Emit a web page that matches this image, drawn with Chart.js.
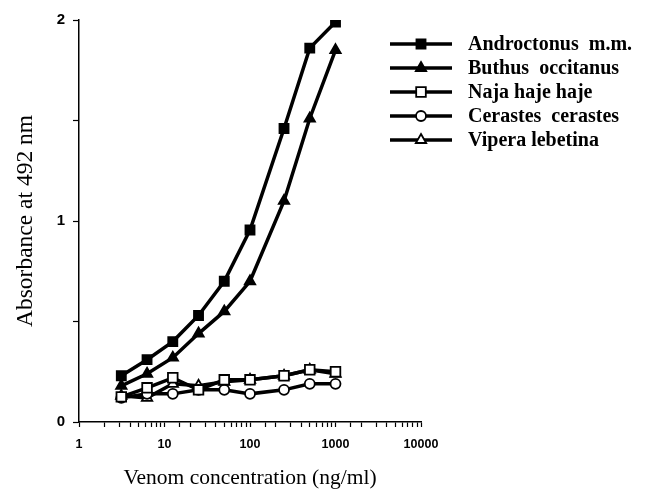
<!DOCTYPE html>
<html>
<head>
<meta charset="utf-8">
<script src="https://cdn.jsdelivr.net/npm/chart.js@4/dist/chart.umd.min.js"></script>
<style>
  html, body { margin: 0; padding: 0; background: #fff; }
  #wrap { width: 649px; height: 489px; position: relative; }
</style>
</head>
<body>
<div id="wrap"><canvas id="c" width="649" height="489"></canvas></div>
<script>
// Venom concentration (ng/ml)
const concentrations = [3.125, 6.25, 12.5, 25, 50, 100, 250, 500, 1000];
// Absorbance at 492 nm
const androctonus = [0.23, 0.31, 0.40, 0.53, 0.70, 0.955, 1.46, 1.86, 1.99];
const buthus      = [0.18, 0.24, 0.32, 0.44, 0.55, 0.70, 1.10, 1.51, 1.85];
const naja        = [0.125, 0.17, 0.22, 0.16, 0.21, 0.21, 0.23, 0.26, 0.25];
const cerastes    = [0.12, 0.14, 0.14, 0.16, 0.16, 0.14, 0.16, 0.19, 0.19];
const vipera      = [0.13, 0.12, 0.19, 0.18, 0.20, 0.21, 0.23, 0.26, 0.24];
const seriesNames = ['Androctonus  m.m.', 'Buthus  occitanus', 'Naja haje haje', 'Cerastes  cerastes', 'Vipera lebetina'];
const xTickLabels = [1, 10, 100, 1000, 10000];
const yTickLabels = [0, 1, 2];

function pts(ys) { return concentrations.map((x, i) => ({ x: x, y: ys[i] })); }

const styles = [
  { pointStyle: 'rect', fill: '#000', radius: 6.4 },
  { pointStyle: 'triangle', fill: '#000', radius: 6 },
  { pointStyle: 'rect', fill: '#fff', radius: 6.8 },
  { pointStyle: 'circle', fill: '#fff', radius: 5 },
  { pointStyle: 'triangle', fill: '#fff', radius: 6 }
];
const values = [androctonus, buthus, naja, cerastes, vipera];

const datasets = values.map((v, i) => ({
  label: seriesNames[i],
  data: pts(v),
  borderColor: '#000',
  borderWidth: 3.5,
  backgroundColor: styles[i].fill,
  pointStyle: styles[i].pointStyle,
  pointRadius: styles[i].radius,
  pointBackgroundColor: styles[i].fill,
  pointBorderColor: '#000',
  pointBorderWidth: 1.8,
  tension: 0,
  fill: false
}));

const legendPlugin = {
  id: 'customLegend',
  afterDraw(chart) {
    const ctx = chart.ctx;
    const x0 = 390, x1 = 452, xm = 421, tx = 468;
    const y0 = 44, dy = 24;
    ctx.save();
    chart.data.datasets.forEach((ds, i) => {
      const y = y0 + i * dy;
      ctx.strokeStyle = '#000';
      ctx.lineWidth = 3.5;
      ctx.beginPath();
      ctx.moveTo(x0, y);
      ctx.lineTo(x1, y);
      ctx.stroke();
      ctx.fillStyle = ds.pointBackgroundColor;
      ctx.strokeStyle = '#000';
      ctx.lineWidth = 1.8;
      Chart.helpers.drawPoint(ctx, { pointStyle: ds.pointStyle, radius: ds.pointRadius, rotation: 0, borderWidth: 1.8 }, xm, y);
      ctx.fillStyle = '#000';
      ctx.font = 'bold 20px "Liberation Serif"';
      ctx.textAlign = 'left';
      ctx.textBaseline = 'middle';
      ctx.fillText(ds.label, tx, y + 1);
    });
    ctx.restore();
  }
};

new Chart(document.getElementById('c'), {
  type: 'line',
  data: { datasets: datasets },
  plugins: [legendPlugin],
  options: {
    responsive: false,
    animation: false,
    devicePixelRatio: 1,
    layout: { padding: { left: 0, top: 20, right: 228, bottom: 0 } },
    plugins: { legend: { display: false }, tooltip: { enabled: false } },
    scales: {
      x: {
        type: 'logarithmic',
        min: 1,
        max: 10000,
        afterFit(scale) { scale.height = 67; },
        border: { display: true, color: '#000', width: 1.5 },
        grid: { display: true, drawOnChartArea: false, drawTicks: true, tickLength: 5, tickColor: '#000', tickWidth: 1.2 },
        ticks: {
          autoSkip: false,
          maxRotation: 0,
          padding: 10,
          color: '#000',
          font: { family: '"Liberation Sans"', size: 12.5, weight: 'bold' },
          callback(value) { return xTickLabels.includes(value) ? String(value) : ''; }
        },
        title: {
          display: true,
          text: 'Venom concentration (ng/ml)',
          color: '#000',
          font: { family: '"Liberation Serif"', size: 21.5, lineHeight: 1 },
          padding: { top: 0, bottom: 0 }
        }
      },
      y: {
        type: 'linear',
        min: 0,
        max: 2,
        afterFit(scale) { scale.width = 79; },
        border: { display: true, color: '#000', width: 1.5 },
        grid: { display: true, drawOnChartArea: false, drawTicks: true, tickLength: 6, tickColor: '#000', tickWidth: 1.2 },
        ticks: {
          stepSize: 0.5,
          padding: 8,
          color: '#000',
          font: { family: '"Liberation Sans"', size: 15, weight: 'bold' },
          callback(value) { return yTickLabels.includes(value) ? String(value) : ''; }
        },
        title: {
          display: true,
          text: 'Absorbance at 492 nm',
          color: '#000',
          font: { family: '"Liberation Serif"', size: 23.5, lineHeight: 1 },
          padding: { top: 14, bottom: 0 }
        }
      }
    }
  }
});
</script>
</body>
</html>
